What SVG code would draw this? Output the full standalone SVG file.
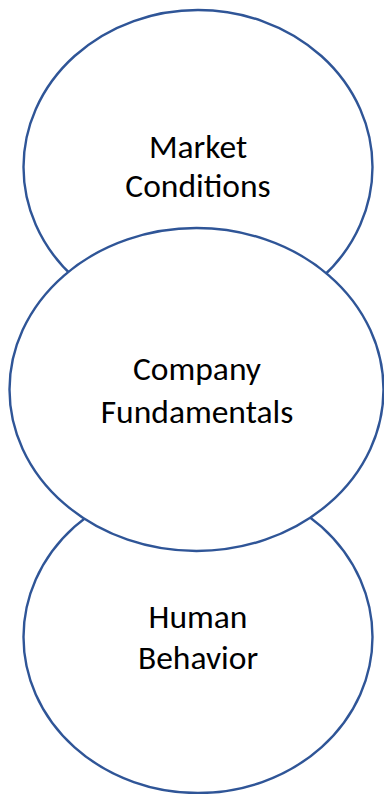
<svg xmlns="http://www.w3.org/2000/svg" width="384" height="794" viewBox="0 0 384 794">
<style>
.n{fill:#fff;stroke:#2f5597;stroke-width:2.4}
.t{font-family:Carlito,Lato,"Liberation Sans",sans-serif;font-size:33.5px;fill:#000;text-anchor:middle}
</style>
<rect width="384" height="794" fill="#fff"/>
<g id="connectors"/>
<g id="market">
<ellipse class="n" cx="198" cy="167" rx="174.5" ry="157"/>
<text class="t" x="198" y="158">Market</text>
<text class="t" x="198" y="197">Conditions</text>
</g>
<g id="human">
<ellipse class="n" cx="198" cy="637" rx="174.5" ry="156"/>
<text class="t" x="198" y="628">Human</text>
<text class="t" x="198" y="669">Behavior</text>
</g>
<g id="company">
<ellipse class="n" cx="196.5" cy="389.5" rx="187" ry="161.5"/>
<text class="t" x="197" y="380">Company</text>
<text class="t" x="197" y="423">Fundamentals</text>
</g>
</svg>
